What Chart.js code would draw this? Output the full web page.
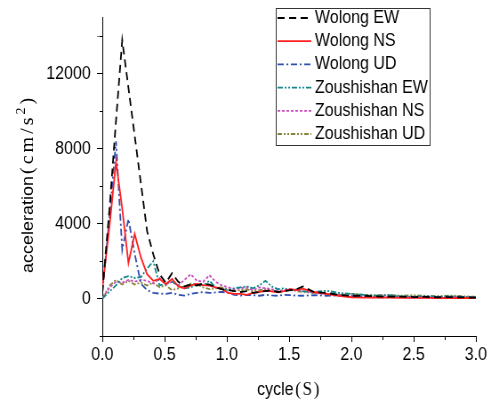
<!DOCTYPE html>
<html>
<head>
<meta charset="utf-8">
<script src="https://cdn.jsdelivr.net/npm/chart.js@4.4.0/dist/chart.umd.min.js"></script>
<style>
  html, body { margin: 0; padding: 0; background: #fff; }
</style>
</head>
<body>
<!-- drawn 552 wide and shown at 491 so the text comes out as narrow as in the original figure -->
<canvas id="chart" width="552" height="401" style="width:491px;height:401px"></canvas>
<script>
const cycles = [0, 0.06, 0.11, 0.16, 0.21, 0.26, 0.31, 0.36, 0.41, 0.46, 0.51, 0.56, 0.61, 0.66, 0.71, 0.76,
    0.81, 0.86, 0.91, 0.96, 1.01, 1.06, 1.11, 1.16, 1.21, 1.26, 1.31, 1.36, 1.41, 1.46, 1.51, 1.56, 1.61,
    1.7, 1.8, 1.9, 2.0, 2.1, 2.2, 2.3, 2.4, 2.5, 2.6, 2.7, 2.8, 2.9, 3.0];

const wolongEW = [300, 5000, 9500, 13800, 11250, 8700, 6150, 3600, 2350, 1300, 850, 1350, 900, 650, 750, 700,
    800, 750, 600, 500, 450, 400, 350, 400, 300, 350, 400, 450, 350, 400, 450, 500, 650,
    350, 300, 200, 150, 150, 120, 100, 100, 80, 90, 70, 80, 60, 50];
const wolongNS = [500, 4000, 7300, 4800, 1900, 3450, 2200, 1300, 950, 1050, 780, 1050, 650, 550, 700, 780,
    720, 690, 600, 515, 300, 250, 250, 200, 300, 350, 420, 380, 330, 400, 500, 450, 530,
    350, 250, 150, 70, 50, 60, 50, 40, 50, 40, 30, 40, 30, 20];
const wolongUD = [300, 4500, 8400, 2600, 4250, 2400, 800, 450, 300, 265, 250, 300, 200, 160, 250, 300,
    350, 300, 330, 350, 320, 200, 160, 200, 180, 150, 200, 170, 150, 200, 180, 160, 150,
    180, 150, 160, 120, 80, 70, 60, 80, 50, 60, 40, 50, 40, 30];
const zoushishanEW = [0, 400, 700, 1100, 1200, 1100, 1150, 1600, 2000, 700, 800, 900, 700, 550, 600, 750,
    700, 950, 600, 500, 450, 550, 600, 650, 550, 700, 950, 650, 500, 550, 450, 500, 400,
    350, 420, 300, 250, 200, 150, 180, 120, 100, 130, 100, 120, 90, 80];
const zoushishanNS = [0, 600, 900, 850, 1000, 900, 1000, 950, 800, 1100, 750, 900, 700, 1000, 1300, 950,
    900, 1250, 900, 700, 600, 500, 550, 600, 450, 600, 550, 500, 400, 450, 500, 450, 400,
    300, 250, 200, 150, 120, 100, 120, 90, 80, 100, 80, 90, 70, 60];
const zoushishanUD = [0, 700, 1000, 750, 950, 750, 850, 700, 850, 600, 700, 450, 550, 650, 800, 750,
    600, 500, 550, 600, 500, 400, 450, 500, 400, 450, 500, 400, 350, 400, 450, 400, 350,
    300, 250, 200, 250, 200, 180, 200, 150, 180, 150, 130, 160, 120, 100];

const seriesNames = ['Wolong EW', 'Wolong NS', 'Wolong UD', 'Zoushishan EW', 'Zoushishan NS', 'Zoushishan UD'];
const yTicks = [-2000, 0, 2000, 4000, 6000, 8000, 10000, 12000, 14000];
const yTickLabels = [0, 4000, 8000, 12000];
const xTickLabels = [0, 0.5, 1.0, 1.5, 2.0, 2.5, 3.0];

const sans = '18px "Liberation Sans", Arial, sans-serif';
const serif = '"Liberation Serif", "Times New Roman", serif';

const styles = [
    { color: '#000000', dash: [8, 5] },
    { color: '#ff2020', dash: [] },
    { color: '#2e4fb0', dash: [7, 3, 2, 3] },
    { color: '#12898a', dash: [6, 2, 2, 2, 2, 2] },
    { color: '#cc4fc2', dash: [3, 2] },
    { color: '#86863c', dash: [5, 2, 2, 2, 2, 2] }
];

const series = [wolongEW, wolongNS, wolongUD, zoushishanEW, zoushishanNS, zoushishanUD];

const datasets = series.map((values, i) => ({
    label: seriesNames[i],
    data: values.map((v, k) => ({ x: cycles[k], y: v })),
    borderColor: styles[i].color,
    borderDash: styles[i].dash,
    borderWidth: 1.8,
    pointRadius: 0,
    tension: 0,
    fill: false
}));

// boxed legend in the top right corner, as in the figure
const boxLegend = {
    id: 'boxLegend',
    afterDraw(chart) {
        const ctx = chart.ctx;
        ctx.save();
        ctx.strokeStyle = '#333';
        ctx.lineWidth = 1;
        ctx.setLineDash([]);
        ctx.strokeRect(310.5, 8.5, 173, 137);
        ctx.font = sans;
        ctx.textBaseline = 'middle';
        chart.data.datasets.forEach((ds, i) => {
            const y = 18 + i * 23.2;
            ctx.strokeStyle = ds.borderColor;
            ctx.lineWidth = 1.8;
            ctx.setLineDash(ds.borderDash);
            ctx.beginPath();
            ctx.moveTo(312, y);
            ctx.lineTo(350, y);
            ctx.stroke();
            ctx.setLineDash([]);
            ctx.fillStyle = '#000';
            ctx.fillText(ds.label, 354, y);
        });
        ctx.restore();
    }
};

// axis titles mix a sans word with a serif unit
const axisTitles = {
    id: 'axisTitles',
    afterDraw(chart) {
        const ctx = chart.ctx;
        const area = chart.chartArea;
        ctx.save();
        ctx.fillStyle = '#000';
        ctx.textBaseline = 'alphabetic';

        ctx.font = sans;
        const w1 = ctx.measureText('cycle').width;
        ctx.font = '19px ' + serif;
        ctx.letterSpacing = '2px';
        const w2 = ctx.measureText('(S)').width;
        const x0 = (area.left + area.right) / 2 - (w1 + w2 + 2) / 2;
        ctx.letterSpacing = '0px';
        ctx.font = sans;
        ctx.fillText('cycle', x0, 395);
        ctx.font = '19px ' + serif;
        ctx.letterSpacing = '2px';
        ctx.fillText('(S)', x0 + w1 + 2, 395);
        ctx.letterSpacing = '0px';

        ctx.translate(37, 273);
        ctx.rotate(-Math.PI / 2);
        ctx.font = sans;
        ctx.fillText('acceleration', 0, 0);
        let p = ctx.measureText('acceleration').width + 2;
        ctx.font = '20px ' + serif;
        ctx.letterSpacing = '3px';
        ctx.fillText('(cm/s', p, 0);
        p += ctx.measureText('(cm/s').width;
        ctx.font = '14px ' + serif;
        ctx.fillText('2', p, -9);
        p += ctx.measureText('2').width;
        ctx.font = '20px ' + serif;
        ctx.fillText(')', p, 0);
        ctx.letterSpacing = '0px';
        ctx.restore();
    }
};

// short minor ticks between the labelled ones
const minorTicks = {
    id: 'minorTicks',
    afterDraw(chart) {
        const ctx = chart.ctx;
        const xs = chart.scales.x, ys = chart.scales.y;
        ctx.save();
        ctx.strokeStyle = '#fff';
        ctx.lineWidth = 2;
        ctx.beginPath();
        yTicks.filter(v => !yTickLabels.includes(v)).forEach(v => {
            const y = Math.round(ys.getPixelForValue(v)) + 0.5;
            ctx.moveTo(ys.right - 7, y);
            ctx.lineTo(ys.right - 3, y);
        });
        for (let v = 0.25; v < 3; v += 0.5) {
            const x = xs.getPixelForValue(v);
            ctx.moveTo(x, xs.top + 4);
            ctx.lineTo(x, xs.top + 7);
        }
        ctx.stroke();
        ctx.restore();
    }
};

Chart.defaults.font.family = '"Liberation Sans", Arial, sans-serif';
Chart.defaults.font.size = 18;
Chart.defaults.color = '#000';

new Chart(document.getElementById('chart'), {
    type: 'line',
    data: { datasets: datasets },
    options: {
        responsive: false,
        animation: false,
        layout: { padding: { top: 15, right: 17, left: 0, bottom: 0 } },
        plugins: {
            legend: { display: false },
            tooltip: { enabled: false }
        },
        scales: {
            x: {
                type: 'linear',
                min: 0,
                max: 3,
                afterFit: scale => { scale.height = 65; },
                ticks: {
                    stepSize: 0.25,
                    autoSkip: false,
                    maxRotation: 0,
                    padding: 2,
                    callback: v => xTickLabels.includes(v) ? v.toFixed(1) : ''
                },
                grid: { drawOnChartArea: false, drawTicks: true, tickLength: 6, tickColor: '#000' },
                border: { display: true, color: '#000', width: 1 }
            },
            y: {
                type: 'linear',
                min: -2000,
                max: 15000,
                afterFit: scale => { scale.width = 115; },
                afterBuildTicks: scale => { scale.ticks = yTicks.map(v => ({ value: v })); },
                ticks: {
                    autoSkip: false,
                    padding: 7,
                    callback: v => yTickLabels.includes(v) ? String(v) : ''
                },
                grid: { drawOnChartArea: false, drawTicks: true, tickLength: 6, tickColor: '#000' },
                border: { display: true, color: '#000', width: 1 }
            }
        }
    },
    plugins: [boxLegend, axisTitles, minorTicks]
});
</script>
</body>
</html>
